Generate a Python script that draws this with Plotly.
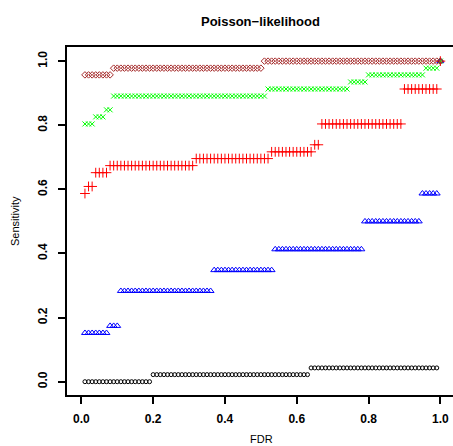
import numpy as np
import plotly.graph_objects as go

# FDR thresholds (x grid)
fdr = np.round(np.arange(1, 101) * 0.01, 2)

# Sensitivity step levels and how many consecutive FDR points sit at each level
circle_levels = [0.0, 0.022, 0.043, 1.0]
circle_counts = [19, 44, 36, 1]

triangle_levels = [0.152, 0.174, 0.283, 0.348, 0.413, 0.500, 0.587, 1.0]
triangle_counts = [7, 3, 26, 17, 25, 16, 5, 1]

plus_levels = [0.587, 0.609, 0.652, 0.674, 0.696, 0.717, 0.739, 0.804, 0.913, 1.0]
plus_counts = [1, 2, 4, 24, 21, 12, 2, 23, 10, 1]

x_levels = [0.804, 0.826, 0.848, 0.891, 0.913, 0.935, 0.957, 0.978, 1.0]
x_counts = [3, 3, 2, 43, 23, 5, 16, 4, 1]

diamond_levels = [0.957, 0.978, 1.0]
diamond_counts = [8, 42, 50]

tick_vals = [0.0, 0.2, 0.4, 0.6, 0.8, 1.0]
tick_text = ["0.0", "0.2", "0.4", "0.6", "0.8", "1.0"]

FONT = "Liberation Sans, Arial, Helvetica, sans-serif"


def expand(levels, counts):
    return np.repeat(levels, counts)


series = [
    (circle_levels, circle_counts, "circle-open", "black", 4),
    (triangle_levels, triangle_counts, "triangle-up-open", "#0000FF", 6),
    (plus_levels, plus_counts, "cross-thin-open", "#FF0000", 7),
    (x_levels, x_counts, "x-thin-open", "#00FF00", 5),
    (diamond_levels, diamond_counts, "diamond-open", "#A52A2A", 5),
]

fig = go.Figure()
for lv, ct, sym, col, sz in series:
    fig.add_trace(go.Scatter(
        x=fdr, y=expand(lv, ct), mode="markers",
        marker=dict(symbol=sym, size=sz, color=col, line=dict(color=col, width=1)),
        showlegend=False, cliponaxis=False, hoverinfo="skip",
    ))

W, H = 453, 446
L, R, T, B = 67, 0, 47, 51
pw = W - L - R
ph = H - T - B

fig.update_layout(
    width=W, height=H,
    margin=dict(l=L, r=R, t=T, b=B, pad=0),
    paper_bgcolor="white", plot_bgcolor="white",
    font=dict(family=FONT, color="black"),
    xaxis=dict(
        range=[-0.04, 1.0352], showgrid=False, zeroline=False,
        showline=True, linecolor="black", linewidth=1.5, mirror=True,
        ticks="outside", ticklen=7, tickwidth=1.5, tickcolor="black",
        tickvals=tick_vals, ticktext=tick_text,
        tickfont=dict(size=12, family=FONT, weight="bold"),
        ticklabelstandoff=5,
    ),
    yaxis=dict(
        range=[-0.0415, 1.044], showgrid=False, zeroline=False,
        showline=True, linecolor="black", linewidth=1.5, mirror=False,
        ticks="outside", ticklen=7, tickwidth=1.5, tickcolor="black",
        tickvals=tick_vals, ticktext=tick_text, tickangle=-90,
        tickfont=dict(size=12, family=FONT, weight="bold"),
        ticklabelstandoff=6,
    ),
    annotations=[
        dict(text="Poisson−likelihood", x=(260 - L) / pw, y=(H - B - 22) / ph,
             xref="paper", yref="paper", showarrow=False,
             xanchor="center", yanchor="middle",
             font=dict(size=13, family=FONT, weight="bold")),
        dict(text="FDR", x=(261 - L) / pw, y=(H - B - 439.5) / ph,
             xref="paper", yref="paper", showarrow=False,
             xanchor="center", yanchor="middle",
             font=dict(size=11, family=FONT)),
        dict(text="Sensitivity", x=(15 - L) / pw, y=0.5, textangle=-90,
             xref="paper", yref="paper", showarrow=False,
             xanchor="center", yanchor="middle",
             font=dict(size=11, family=FONT)),
    ],
)

fig.write_html(
    "out.html",
    config={"displayModeBar": False},
    post_script="document.body.style.margin='0';document.body.style.overflow='hidden';",
)
